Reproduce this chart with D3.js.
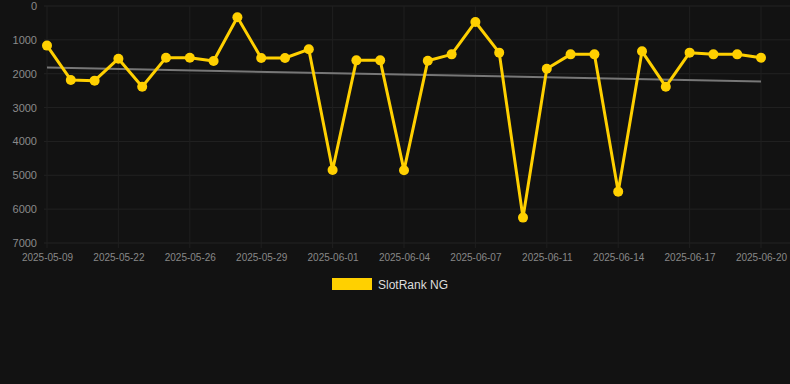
<!DOCTYPE html>
<html><head><meta charset="utf-8">
<script src="https://cdn.jsdelivr.net/npm/d3@7"></script>
<style>
html,body{margin:0;padding:0;background:#121212;}
svg{display:block;font-family:"Liberation Sans",Arial,sans-serif;}
</style></head>
<body><svg id="c" width="790" height="384"></svg>
<script>
const dates = ["2025-05-09","2025-05-13","2025-05-18","2025-05-22","2025-05-23","2025-05-25","2025-05-26","2025-05-27","2025-05-28","2025-05-29","2025-05-30","2025-05-31","2025-06-01","2025-06-02","2025-06-03","2025-06-04","2025-06-05","2025-06-06","2025-06-07","2025-06-08","2025-06-10","2025-06-11","2025-06-12","2025-06-13","2025-06-14","2025-06-15","2025-06-16","2025-06-17","2025-06-18","2025-06-19","2025-06-20"];
const ranks = [1170,2185,2205,1556,2383,1526,1526,1624,334,1536,1536,1280,4843,1605,1605,4853,1615,1428,472,1378,6250,1851,1428,1428,5483,1339,2383,1378,1428,1428,1526];
const trendValues = [1820,2230];
const yTicks = [0,1000,2000,3000,4000,5000,6000,7000];
const seriesName = "SlotRank NG";

(function(){
const svg = d3.select("#c");
const mLeft = 47, mRight = 761, mTop = 6, mBottom = 243;
const x = d3.scalePoint().domain(dates).range([mLeft, mRight]);
const y = d3.scaleLinear().domain([0,7000]).range([mTop, mBottom]);

// grid
const g = svg.append("g");
g.selectAll("line.h").data(yTicks).join("line")
  .attr("x1", 44).attr("x2", 790).attr("y1", d=>y(d)).attr("y2", d=>y(d))
  .attr("stroke", "#222").attr("stroke-width", 1);
const labeled = dates.filter((d,i)=>i%3===0);
g.selectAll("line.v").data(labeled).join("line")
  .attr("x1", d=>x(d)).attr("x2", d=>x(d)).attr("y1", mTop).attr("y2", mBottom+5)
  .attr("stroke", "#1f1f1f").attr("stroke-width", 1);

// y axis
const ya = svg.append("g").attr("transform", `translate(${mLeft-10},0)`)
  .call(d3.axisLeft(y).tickValues(yTicks).tickSize(0).tickPadding(0).tickFormat(d=>d));
ya.select(".domain").remove();
ya.selectAll("text").attr("fill","#8a8a8a").attr("font-size","11px").attr("font-family","Liberation Sans, Arial, sans-serif");

// x axis
const xa = svg.append("g").attr("transform", `translate(0,${mBottom+11})`)
  .call(d3.axisBottom(x).tickValues(labeled).tickSize(0).tickPadding(0));
xa.select(".domain").remove();
xa.selectAll("text").attr("fill","#888").attr("font-size","10px").attr("font-family","Liberation Sans, Arial, sans-serif").attr("dy","0.71em");

// trend
svg.append("line")
  .attr("x1", x(dates[0])).attr("x2", x(dates[dates.length-1]))
  .attr("y1", y(trendValues[0])).attr("y2", y(trendValues[1]))
  .attr("stroke", "#777").attr("stroke-width", 2);

// line
const pts = dates.map((d,i)=>({d, v: ranks[i]}));
svg.append("path").datum(pts)
  .attr("fill","none").attr("stroke","#ffd000").attr("stroke-width",3).attr("stroke-linejoin","round")
  .attr("d", d3.line().x(p=>x(p.d)).y(p=>y(p.v)));
svg.selectAll("circle.p").data(pts).join("circle")
  .attr("cx", p=>x(p.d)).attr("cy", p=>y(p.v)).attr("r", 5).attr("fill","#ffd000");

// legend
const lg = svg.append("g");
lg.append("rect").attr("x",332).attr("y",278).attr("width",40).attr("height",12).attr("fill","#ffd000");
lg.append("text").attr("x",378).attr("y",288.5).text(seriesName)
  .attr("fill","#ddd").attr("font-size","12px");
})();
</script></body></html>
